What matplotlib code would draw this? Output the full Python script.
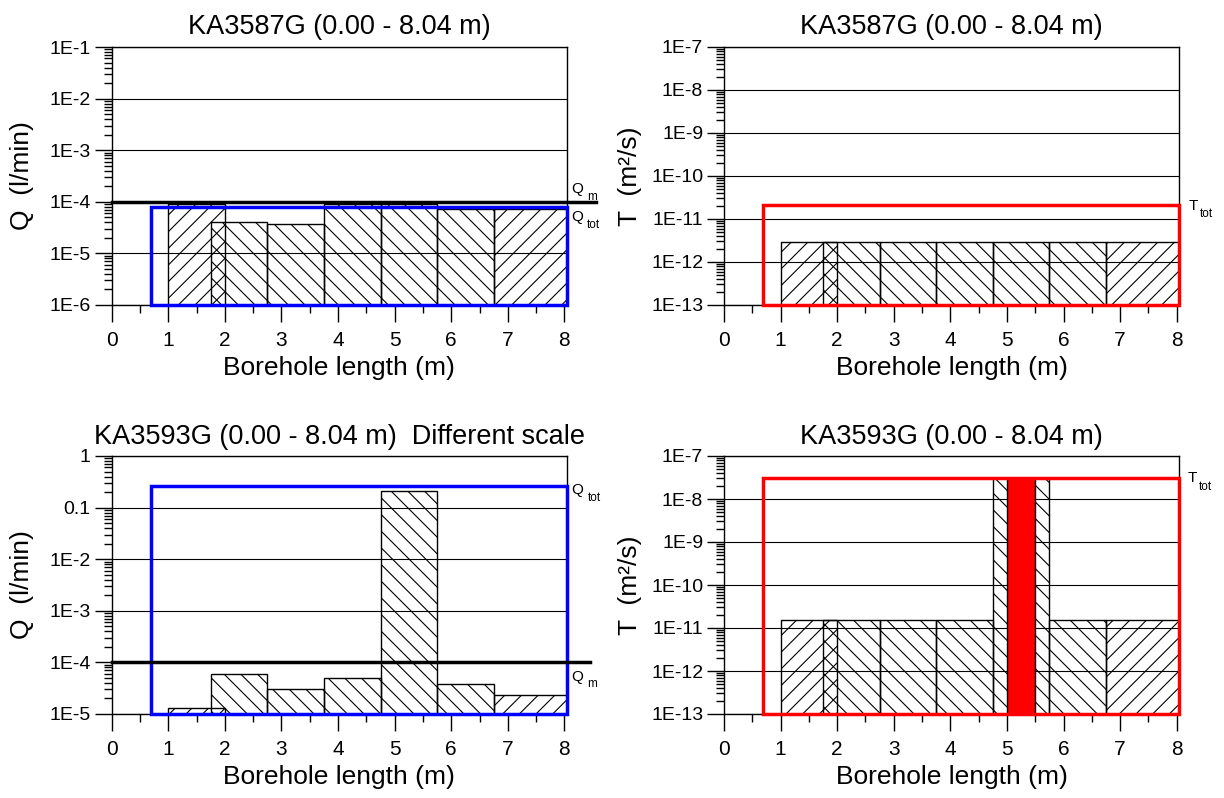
import matplotlib.pyplot as plt
from matplotlib.patches import Rectangle
from matplotlib.ticker import LogLocator, NullFormatter, MultipleLocator

plt.rcParams['font.family'] = ['Liberation Sans', 'DejaVu Sans']
plt.rcParams['hatch.linewidth'] = 0.8

# test sections along the borehole (m)
sec_start = [1.0, 1.75, 2.75, 3.75, 4.75, 5.75, 6.75]
sec_end = [2.0, 2.75, 3.75, 4.75, 5.75, 6.75, 8.04]
sec_hatch = ['//', '\\\\', '\\\\', '\\\\', '\\\\', '\\\\', '//']

# flow (l/min) and transmissivity (m2/s) per section
q_3587 = [8.9e-5, 4.0e-5, 3.75e-5, 9.2e-5, 8.9e-5, 7.3e-5, 7.3e-5]
t_3587 = [2.95e-12, 2.95e-12, 2.95e-12, 2.95e-12, 2.95e-12, 2.95e-12, 2.95e-12]
q_3593 = [1.32e-5, 5.9e-5, 3.0e-5, 4.9e-5, 0.208, 3.8e-5, 2.3e-5]
t_3593 = [1.56e-11, 1.56e-11, 1.56e-11, 1.56e-11, 3.1e-8, 1.56e-11, 1.56e-11]

# whole borehole values
qtot_3587 = 7.9e-5
ttot_3587 = 2.15e-11
qtot_3593 = 0.264
ttot_3593 = 3.1e-8
q_m = 1e-4
box_start = 0.69
box_end = 8.04

# red (highlighted) section in KA3593G
red_start = 5.0
red_end = 5.5
red_val = 3.1e-8

q1_ticks = [1e-6, 1e-5, 1e-4, 1e-3, 1e-2, 1e-1]
q1_labels = ['1E-6', '1E-5', '1E-4', '1E-3', '1E-2', '1E-1']
q2_ticks = [1e-5, 1e-4, 1e-3, 1e-2, 1e-1, 1]
q2_labels = ['1E-5', '1E-4', '1E-3', '1E-2', '0.1', '1']
t_ticks = [1e-13, 1e-12, 1e-11, 1e-10, 1e-9, 1e-8, 1e-7]
t_labels = ['1E-13', '1E-12', '1E-11', '1E-10', '1E-9', '1E-8', '1E-7']

fig = plt.figure(figsize=(12.24, 7.98), dpi=100)


def panel(rect, vals, yticks, ylabels, ylabel, title, tot, tot_color, ylab_x):
    ax = fig.add_axes(rect)
    ax.set_yscale('log')
    ylo, yhi = yticks[0], yticks[-1]
    ax.set_xlim(0, 8.04)
    ax.set_ylim(ylo, yhi)

    bars = ax.bar(sec_start, [v - ylo for v in vals],
                  width=[e - s for s, e in zip(sec_start, sec_end)],
                  bottom=ylo, align='edge', facecolor='none',
                  edgecolor='black', linewidth=1.0, zorder=2)
    for p, h in zip(bars, sec_hatch):
        p.set_hatch(h)

    ax.add_patch(Rectangle((box_start, ylo), box_end - box_start, tot - ylo,
                           fill=False, edgecolor=tot_color, linewidth=2.5,
                           joinstyle='miter', clip_on=False, zorder=3))

    ax.set_yticks(yticks)
    ax.set_yticklabels(ylabels)
    ax.yaxis.set_minor_locator(LogLocator(base=10, subs=range(2, 10), numticks=50))
    ax.yaxis.set_minor_formatter(NullFormatter())
    ax.xaxis.set_major_locator(MultipleLocator(1))
    ax.xaxis.set_minor_locator(MultipleLocator(0.5))

    ax.grid(True, which='major', axis='y', color='black', linewidth=0.8)
    ax.set_axisbelow(True)
    for s in ax.spines.values():
        s.set_linewidth(1.0)

    ax.tick_params(axis='both', which='major', direction='out', length=12, width=1)
    ax.tick_params(axis='both', which='minor', direction='out', length=6, width=1)
    ax.tick_params(axis='x', which='major', labelsize=15, pad=7)
    ax.tick_params(axis='y', which='major', labelsize=14, pad=3)

    ax.set_xlabel('Borehole length (m)', fontsize=19, labelpad=4)
    ax.set_ylabel(ylabel, fontsize=19)
    ax.yaxis.set_label_coords(ylab_x, 0.5)
    ax.set_title(title, fontsize=19.5, pad=9)
    return ax


def side_label(ax, y, main, sub, dx, dy, sdx, sdy):
    ax.annotate(main, xy=(1, y), xycoords=('axes fraction', 'data'),
                xytext=(dx, dy), textcoords='offset points', ha='left',
                va='baseline', fontsize=11, annotation_clip=False)
    ax.annotate(sub, xy=(1, y), xycoords=('axes fraction', 'data'),
                xytext=(sdx, sdy), textcoords='offset points', ha='left',
                va='baseline', fontsize=8.5, annotation_clip=False)


W, H = 1224, 798
aw, ah = 455 / W, 258 / H

ax1 = panel([111.7 / W, 1 - 305 / H, aw, ah], q_3587, q1_ticks, q1_labels,
            'Q  (l/min)', 'KA3587G (0.00 - 8.04 m)', qtot_3587, 'blue', -0.17)
ax1.plot([0, 8.56], [q_m, q_m], color='black', linewidth=2.5, clip_on=False, zorder=4)
side_label(ax1, q_m, 'Q', 'm', 3, 6.5, 14.5, 1.5)
side_label(ax1, qtot_3587, 'Q', 'tot', 3, -10, 14.5, -15)

ax2 = panel([724 / W, 1 - 305 / H, aw, ah], t_3587, t_ticks, t_labels,
            'T  (m²/s)', 'KA3587G (0.00 - 8.04 m)', ttot_3587, 'red', -0.18)
side_label(ax2, ttot_3587, 'T', 'tot', 7, -4, 15, -8.5)

ax3 = panel([111.7 / W, 1 - 714 / H, aw, ah], q_3593, q2_ticks, q2_labels,
            'Q  (l/min)', 'KA3593G (0.00 - 8.04 m)  Different scale',
            qtot_3593, 'blue', -0.17)
ax3.plot([0, 8.45], [q_m, q_m], color='black', linewidth=2.5, clip_on=False, zorder=4)
side_label(ax3, q_m, 'Q', 'm', 3, -13.5, 15, -17.5)
side_label(ax3, qtot_3593, 'Q', 'tot', 3, -6, 15, -11)

ax4 = panel([724 / W, 1 - 714 / H, aw, ah], t_3593, t_ticks, t_labels,
            'T  (m²/s)', 'KA3593G (0.00 - 8.04 m)', ttot_3593, 'red', -0.18)
ax4.bar(red_start, red_val - t_ticks[0], width=red_end - red_start,
        bottom=t_ticks[0], align='edge', color='red', edgecolor='black',
        linewidth=1.0, zorder=2.6)
side_label(ax4, ttot_3593, 'T', 'tot', 6, -3, 14.5, -8.5)

fig.savefig('out.png', dpi=100)
